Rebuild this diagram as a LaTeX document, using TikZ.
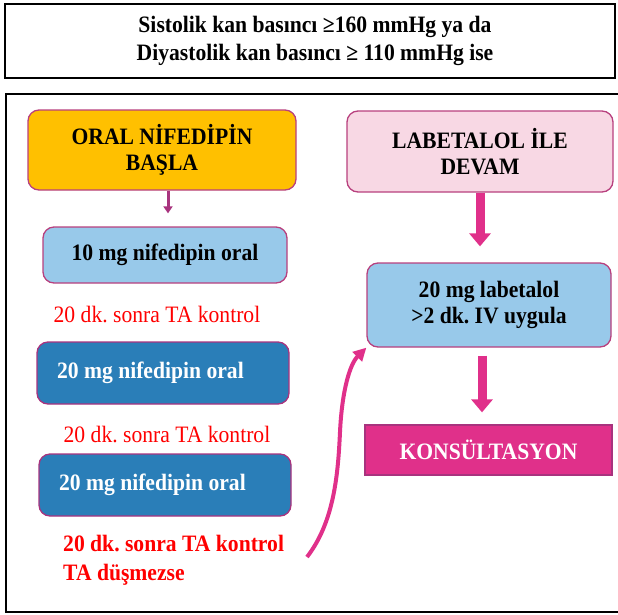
\documentclass[tikz,border=0pt]{standalone}
\usepackage{fontspec}
\setmainfont{Liberation Serif}[FakeStretch=0.92]
\usetikzlibrary{arrows.meta,calc}
\frenchspacing
\definecolor{orng}{HTML}{FFC000}
\definecolor{pinkbg}{HTML}{F8D8E4}
\definecolor{lblue}{HTML}{98C9EA}
\definecolor{dblue}{HTML}{2A7EB8}
\definecolor{mag}{HTML}{E0308A}
\definecolor{purp}{HTML}{A8337E}
\definecolor{bordm}{HTML}{B8407E}
\tikzset{
  bx/.style={draw=bordm, line width=1.3pt, rounded corners=11pt, align=center, font=\fontsize{23.5}{26}\selectfont\bfseries, inner sep=0pt},
  darkbx/.style={bx, draw=purp, fill=dblue, text=white, text width=212pt, align=flush left, inner xsep=20pt, minimum height=62pt},
  redtxt/.style={text=red, font=\fontsize{23.5}{29}\selectfont\frenchspacing, inner sep=0pt},
  bigarrow/.style={draw=mag, line width=9pt, -{Triangle[width=21pt,length=13pt]}},
}
\begin{document}
\begin{tikzpicture}[x=1pt,y=-1pt]
\useasboundingbox (0,0) rectangle (618,614);
% frames
\draw[line width=2.6pt] (5,4) rectangle (615,78);
\node[align=center, font=\fontsize{23.5}{28}\selectfont\bfseries, inner sep=0pt] (title) at (315,41) {Sistolik kan basıncı ≥160 mmHg ya da\\Diyastolik kan basıncı ≥ 110 mmHg ise};
\draw[line width=2.6pt] (6,94) rectangle (625,612);
% boxes
\node[bx, fill=orng, minimum width=268pt, minimum height=80pt] (oral) at (162,150) {ORAL NİFEDİPİN\\BAŞLA};
\node[bx, fill=lblue, minimum width=244pt, minimum height=56pt] (n10) at (165,255) {10 mg nifedipin oral};
\node[redtxt] (r1) at (157,315) {20 dk. sonra TA kontrol};
\node[darkbx] (n20a) at (163,373) {20 mg nifedipin oral};
\node[redtxt] (r2) at (167,435) {20 dk. sonra TA kontrol};
\node[darkbx] (n20b) at (165,485) {20 mg nifedipin oral};
\node[redtxt, font=\fontsize{23.5}{29}\selectfont\bfseries\frenchspacing, align=left, anchor=north west] (r3) at (63,535) {20 dk. sonra TA kontrol\\TA düşmezse};
\node[bx, fill=pinkbg, minimum width=266pt, minimum height=81pt] (lab) at (480,151.5) {LABETALOL İLE\\DEVAM};
\node[bx, fill=lblue, minimum width=244pt, minimum height=84pt, font=\fontsize{23.5}{26}\selectfont\bfseries\frenchspacing] (lab20) at (489,305) {20 mg labetalol\\>2 dk. IV uygula};
\node[bx, draw=purp, fill=mag, text=white, rounded corners=0pt, minimum width=247pt, minimum height=50pt] (kons) at (488.5,450) {KONSÜLTASYON};
% arrows
\draw[draw=purp, line width=3pt, -{Triangle[width=9pt,length=7pt]}, shorten >=13pt] ([xshift=6pt]oral.south) -- ([xshift=6pt]oral.south |- n10.north);
\draw[bigarrow, shorten >=16pt] (lab.south) -- (lab.south |- lab20.north);
\draw[bigarrow, shorten <=8pt, shorten >=12pt] ([xshift=-7pt]lab20.south) -- ([xshift=-7pt]lab20.south |- kons.north);
\coordinate (cstart) at (307,557);
\draw[draw=mag, line width=4pt, -{Triangle[width=13pt,length=13pt]}] (cstart) .. controls (334,522) and (338,475) .. (340,432) .. controls (342,390) and (350,364) .. (lab20.south west);
\end{tikzpicture}
\end{document}
